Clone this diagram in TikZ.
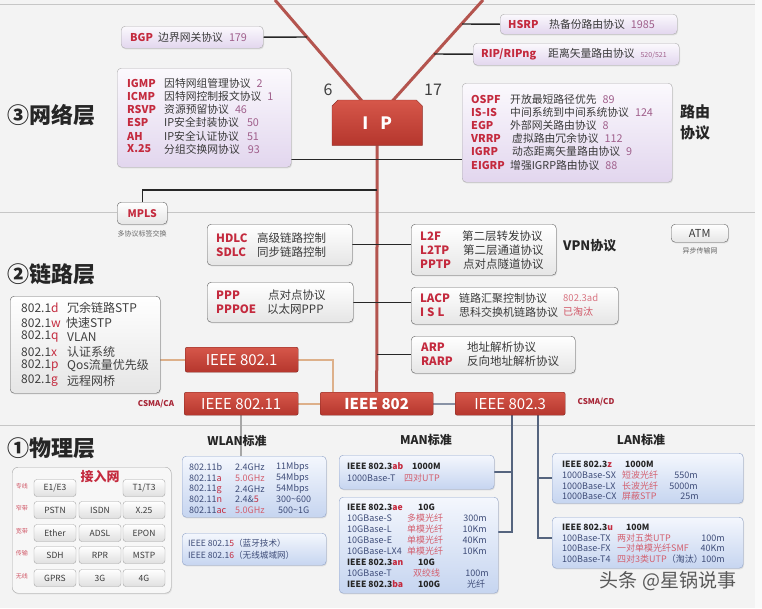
\documentclass[tikz,border=0pt]{standalone}
\usepackage{fontspec}
\setmainfont{Noto Sans CJK SC}
\usetikzlibrary{shadows,calc}
\pgfdeclarelayer{back}
\pgfdeclarelayer{lines}
\pgfsetlayers{back,lines,main}
\definecolor{bgc}{HTML}{F3F3F3}
\definecolor{nred}{HTML}{C42A3E}
\definecolor{numc}{HTML}{A0608C}
\definecolor{txt}{HTML}{3A3A3A}
\definecolor{wl}{HTML}{3E4C78}
\definecolor{redline}{HTML}{B4544E}
\definecolor{tanl}{HTML}{DDB08A}
\definecolor{bluel}{HTML}{55647E}
\definecolor{rtop}{HTML}{D6574A}
\definecolor{rbot}{HTML}{B5362D}
\definecolor{phtop}{HTML}{F4F7FD}
\definecolor{phbot}{HTML}{C6D5F0}
\definecolor{phdr}{HTML}{8FA2C8}
\definecolor{nttop}{HTML}{FBF9FD}
\definecolor{ntbot}{HTML}{E2D6EE}
\newcommand\myfs[1]{\fontsize{#1}{#1}\selectfont}
\tikzset{
 boxbase/.style={anchor=north west, inner sep=0pt, rounded corners=4pt, drop shadow={opacity=0.18, shadow xshift=0.8pt, shadow yshift=-1.2pt}},
 netbox/.style={boxbase, draw=gray!65, top color=nttop, bottom color=ntbot},
 linkbox/.style={boxbase, draw=gray!75!black, top color=white, bottom color=gray!20},
 phybox/.style={boxbase, draw=phdr, top color=phtop, bottom color=phbot},
 redbox/.style={anchor=north west, inner sep=0pt, rounded corners=2pt, draw=rbot!70!black, top color=rtop, bottom color=rbot, text=white, font=\myfs{15}},
 nt/.style={anchor=west, inner sep=0pt, text=txt, font=\myfs{10.8}},
 nn/.style={anchor=west, inner sep=0pt, text=nred, font=\bfseries\myfs{10.8}},
 lt/.style={anchor=west, inner sep=0pt, text=txt, font=\myfs{11.5}},
 ln/.style={anchor=west, inner sep=0pt, text=nred, font=\bfseries\myfs{11.5}},
 dt/.style={anchor=west, inner sep=0pt, text=black!75, font=\myfs{12}},
 wt/.style={anchor=west, inner sep=0pt, text=wl, font=\myfs{9}},
 wb/.style={anchor=west, inner sep=0pt, text=black!85, font=\bfseries\myfs{8.6}},
 wr/.style={anchor=west, inner sep=0pt, text=nred!75, font=\myfs{9}},
 wd/.style={anchor=east, inner sep=0pt, text=wl, font=\myfs{9}},
 layer/.style={anchor=west, inner sep=0pt, font=\bfseries\myfs{22}, text=black!85},
 head/.style={inner sep=0pt, font=\bfseries\myfs{12}, text=black!85},
 btn/.style={draw=gray!70, rounded corners=3pt, top color=white, bottom color=gray!25, minimum width=42pt, minimum height=17pt, inner sep=0pt, font=\myfs{8.5}, text=txt},
 side/.style={inner sep=0pt, font=\myfs{6}, text=nred!80},
 small/.style={inner sep=0pt, font=\myfs{7}, text=black!60},
 blk/.style={draw=black!85, line width=1.4pt},
 redl/.style={draw=redline, line width=3pt},
 tanc/.style={draw=tanl, line width=2pt},
 bluec/.style={draw=bluel, line width=1.8pt},
 sepl/.style={draw=gray!45, line width=0.8pt},
}
\begin{document}
\begin{tikzpicture}[x=1pt,y=-1pt]
\useasboundingbox (0,0) rectangle (762,608);
\begin{pgfonlayer}{back}
\fill[bgc] (0,0) rectangle (762,608);
\fill[white!60!bgc] (755,0) rectangle (762,608);
\draw[sepl] (0,4) -- (755,4);
\draw[sepl] (0,212) -- (755,212);
\draw[sepl] (0,425) -- (755,425);
\end{pgfonlayer}

% ---------------- network layer
\node[layer] (l3) at (7,115) {③网络层};

\node[netbox, minimum width=142pt, minimum height=22pt] (bgp) at (121,26) {};
\node[nn] at (130,37) {BGP};
\node[nt] at (158,37) {边界网关协议\hspace{6pt}\textcolor{numc}{179}};

\node[netbox, minimum width=174pt, minimum height=99pt] (netl) at (117,68) {};
\node[nn] at (127,83) {IGMP}; \node[nt] at (164,83) {因特网组管理协议\hspace{6pt}\textcolor{numc}{2}};
\node[nn] at (127,96) {ICMP}; \node[nt] at (164,96) {因特网控制报文协议\hspace{6pt}\textcolor{numc}{1}};
\node[nn] at (127,109) {RSVP}; \node[nt] at (164,109) {资源预留协议\hspace{6pt}\textcolor{numc}{46}};
\node[nn] at (127,122) {ESP}; \node[nt] at (164,122) {IP安全封装协议\hspace{8pt}\textcolor{numc}{50}};
\node[nn] at (127,136) {AH}; \node[nt] at (164,136) {IP安全认证协议\hspace{8pt}\textcolor{numc}{51}};
\node[nn] at (127,149) {X.25}; \node[nt] at (164,149) {分组交换网协议\hspace{8pt}\textcolor{numc}{93}};

\node[netbox, minimum width=177pt, minimum height=20pt] (hsrp) at (500,14) {};
\node[nn] at (508,24) {HSRP}; \node[nt] at (549,24) {热备份路由协议\hspace{6pt}\textcolor{numc}{1985}};
\node[netbox, minimum width=206pt, minimum height=22pt] (rip) at (473,43) {};
\node[nn] at (481,54) {RIP/RIPng}; \node[nt] at (548,54) {距离矢量路由协议\hspace{6pt}\textcolor{numc}{\myfs{7}520/521}};

\node[netbox, minimum width=210pt, minimum height=99pt] (ospf) at (462,83) {};
\node[nn] at (471,99) {OSPF}; \node[nt] at (510,99) {开放最短路径优先\hspace{6pt}\textcolor{numc}{89}};
\node[nn] at (471,112) {IS-IS}; \node[nt] at (510,112) {中间系统到中间系统协议\hspace{6pt}\textcolor{numc}{124}};
\node[nn] at (471,125) {EGP}; \node[nt] at (510,125) {外部网关路由协议\hspace{6pt}\textcolor{numc}{8}};
\node[nn] at (471,138) {VRRP}; \node[nt] at (512,138) {虚拟路由冗余协议\hspace{6pt}\textcolor{numc}{112}};
\node[nn] at (471,151) {IGRP}; \node[nt] at (512,151) {动态距离矢量路由协议\hspace{6pt}\textcolor{numc}{9}};
\node[nn] at (471,165) {EIGRP}; \node[nt] at (510,165) {增强IGRP路由协议\hspace{6pt}\textcolor{numc}{88}};
\node[inner sep=0pt, font=\bfseries\myfs{15}, text=black!85] (rt1) at (695,112) {路由};
\node[inner sep=0pt, font=\bfseries\myfs{15}, text=black!85] (rt2) at (695,133) {协议};

\node[anchor=north west, minimum width=90pt, minimum height=45pt, inner sep=0pt] (ip) at (332,100) {};
\shade[top color=rtop, bottom color=rbot, draw=rbot!80!black] ($(ip.north west)+(0,6)$) -- ($(ip.north west)+(6,0)$) -- ($(ip.north east)+(-6,0)$) -- ($(ip.north east)+(0,6)$) -- (ip.south east) -- (ip.south west) -- cycle;
\node[text=white, font=\bfseries\myfs{17}] (iptxt) at (ip.center) {I\hspace{12pt}P};
\node[font=\myfs{16}, text=black!75] (six) at (328,90) {6};
\node[font=\myfs{16}, text=black!75] (svt) at (433,90) {17};

\node[linkbox, minimum width=50pt, minimum height=22pt, font=\bfseries\myfs{10.5}, text=nred] (mpls) at (117,202) {MPLS};
\node[small] (mplsc) at (142,234) {多协议标签交换};

% ---------------- link layer
\node[layer] (l2) at (7,274) {②链路层};

\node[linkbox, minimum width=145pt, minimum height=41pt] (hdlc) at (207,224) {};
\node[ln] at (216,238) {HDLC}; \node[lt] at (257,238) {高级链路控制};
\node[ln] at (216,252) {SDLC}; \node[lt] at (257,252) {同步链路控制};
\node[linkbox, minimum width=146pt, minimum height=40pt] (ppp) at (207,282) {};
\node[ln] at (216,295) {PPP}; \node[lt] at (268,295) {点对点协议};
\node[ln] at (216,309) {PPPOE}; \node[lt] at (267,309) {以太网PPP};

\node[linkbox, minimum width=145pt, minimum height=51pt] (l2f) at (411,224) {};
\node[ln] at (420,236) {L2F}; \node[lt] at (462,236) {第二层转发协议};
\node[ln] at (420,250) {L2TP}; \node[lt] at (463,250) {第二层通道协议};
\node[ln] at (420,264) {PPTP}; \node[lt] at (463,264) {点对点隧道协议};
\node[anchor=west, inner sep=0pt, font=\bfseries\myfs{13}, text=black!85] (vpn) at (563,246) {VPN协议};
\node[linkbox, minimum width=57pt, minimum height=18pt, font=\myfs{11}, text=txt] (atm) at (671,224) {ATM};
\node[small] (atmc) at (700,251) {异步传输网};

\node[linkbox, minimum width=207pt, minimum height=37pt] (lacp) at (411,287) {};
\node[ln] at (420,298) {LACP}; \node[lt, font=\myfs{11}] at (459,298) {链路汇聚控制协议}; \node[lt, text=nred!65, font=\myfs{9.5}] at (563,298) {802.3ad};
\node[ln] at (420,312) {I\hspace{3pt}S\hspace{3pt}L}; \node[lt, font=\myfs{11}] at (459,312) {思科交换机链路协议}; \node[lt, text=nred!80, font=\myfs{10}] at (563,312) {已淘汰};

\node[linkbox, minimum width=164pt, minimum height=37pt] (arp) at (411,336) {};
\node[ln] at (421,347) {ARP}; \node[lt] at (467,347) {地址解析协议};
\node[ln] at (421,361) {RARP}; \node[lt] at (467,361) {反向地址解析协议};

\node[linkbox, minimum width=150pt, minimum height=97pt] (l8021) at (10,296) {};
\node[dt] at (21,308) {802.1\textcolor{nred}{d}}; \node[dt] at (67,308) {冗余链路STP};
\node[dt] at (21,323) {802.1\textcolor{nred}{w}}; \node[dt] at (66,323) {快速STP};
\node[dt] at (21,337) {802.1\textcolor{nred}{q}}; \node[dt] at (67,337) {VLAN};
\node[dt] at (21,352) {802.1\textcolor{nred}{x}}; \node[dt] at (67,352) {认证系统};
\node[dt] at (21,366) {802.1\textcolor{nred}{p}}; \node[dt] at (67,366) {Qos流量优先级};
\node[dt] at (21,381) {802.1\textcolor{nred}{g}}; \node[dt] at (67,381) {远程网桥};

\node[redbox, minimum width=113pt, minimum height=25pt] (ieee1) at (185,347) {IEEE 802.1};
\node[redbox, minimum width=114pt, minimum height=23pt] (ieee11) at (184,392) {IEEE 802.11};
\node[redbox, minimum width=113pt, minimum height=23pt, font=\bfseries\myfs{15}] (ieee802) at (320,392) {IEEE 802};
\node[redbox, minimum width=110pt, minimum height=23pt] (ieee3) at (455,392) {IEEE 802.3};
\node[inner sep=0pt, font=\bfseries\myfs{8}, text=nred!85!black] (csmaca) at (156,404) {CSMA/CA};
\node[inner sep=0pt, font=\bfseries\myfs{8}, text=nred!85!black] (csmacd) at (596,402) {CSMA/CD};

% ---------------- physical layer
\node[layer] (l1) at (7,448) {①物理层};
\node[anchor=north west, draw=gray!70, rounded corners=6pt, fill=gray!6, minimum width=159pt, minimum height=126pt, inner sep=0pt, drop shadow={opacity=0.15, shadow xshift=0.8pt, shadow yshift=-1.2pt}] (acc) at (12,467) {};
\node[inner sep=0pt, font=\bfseries\myfs{13}, text=nred] (accl) at (100,477) {接入网};
\node[btn] (b11) at (55,488) {E1/E3};
\node[btn] (b13) at (144,488) {T1/T3};
\node[btn] (b21) at (55,510) {PSTN};
\node[btn] (b22) at (100,510) {ISDN};
\node[btn] (b23) at (144,510) {X.25};
\node[btn] (b31) at (55,533) {Ether};
\node[btn] (b32) at (100,533) {ADSL};
\node[btn] (b33) at (144,533) {EPON};
\node[btn] (b41) at (55,555) {SDH};
\node[btn] (b42) at (100,555) {RPR};
\node[btn] (b43) at (144,555) {MSTP};
\node[btn] (b51) at (55,578) {GPRS};
\node[btn] (b52) at (100,578) {3G};
\node[btn] (b53) at (144,578) {4G};
\node[side] (s1) at (22,486) {专线};
\node[side] (s2) at (22,508) {窄带};
\node[side] (s3) at (22,531) {宽带};
\node[side] (s4) at (22,553) {传输};
\node[side] (s5) at (22,576) {无线};

\node[head] (wlanl) at (237,441) {WLAN标准};
\node[head] (manl) at (426,440) {MAN标准};
\node[head] (lanl) at (641,440) {LAN标准};

\node[phybox, minimum width=144pt, minimum height=61pt] (wlan) at (182,456) {};
\node[wt] at (189,467) {802.11b}; \node[wt] at (235,467) {2.4GHz}; \node[wt] at (276,467) {11Mbps};
\node[wt] at (189,478) {802.11\textcolor{nred}{a}}; \node[wr] at (235,478) {5.0GHz}; \node[wt] at (276,478) {54Mbps};
\node[wt] at (189,489) {802.11\textcolor{nred}{g}}; \node[wt] at (235,489) {2.4GHz}; \node[wt] at (276,489) {54Mbps};
\node[wt] at (189,499) {802.11\textcolor{nred}{n}}; \node[wt] at (235,499) {2.4\&\textcolor{nred}{5}}; \node[wt] at (276,499) {300\textasciitilde 600};
\node[wt] at (189,510) {802.11\textcolor{nred}{ac}}; \node[wr] at (235,510) {5.0GHz}; \node[wt] at (278,510) {500\textasciitilde 1G};

\node[phybox, minimum width=144pt, minimum height=32pt] (w15) at (182,533) {};
\node[wt, font=\myfs{8.6}] at (188,543) {IEEE 802.1\textcolor{nred}{5}（蓝牙技术）};
\node[wt, font=\myfs{8.6}] at (188,555) {IEEE 802.1\textcolor{nred}{6}（无线城域网）};

\node[phybox, minimum width=155pt, minimum height=34pt] (man1) at (339,455) {};
\node[wb] at (347,466) {IEEE 802.3\textcolor{nred}{ab}}; \node[wb] at (412,466) {1000M};
\node[wt] at (347,478) {1000Base-T}; \node[wr] at (404,478) {四对UTP};

\node[phybox, minimum width=159pt, minimum height=96pt] (man2) at (339,497) {};
\node[wb] at (347,507) {IEEE 802.3\textcolor{nred}{ae}}; \node[wb] at (418,507) {10G};
\node[wt] at (347,518) {10GBase-S}; \node[wr] at (407,518) {多模光纤}; \node[wd] at (487,518) {300m};
\node[wt] at (347,529) {10GBase-L}; \node[wr] at (407,529) {单模光纤}; \node[wd] at (487,529) {10Km};
\node[wt] at (347,540) {10GBase-E}; \node[wr] at (407,540) {单模光纤}; \node[wd] at (487,540) {40Km};
\node[wt] at (347,551) {10GBase-LX4}; \node[wr] at (407,551) {单模光纤}; \node[wd] at (487,551) {10Km};
\node[wb] at (347,562) {IEEE 802.3\textcolor{nred}{an}}; \node[wb] at (418,562) {10G};
\node[wt] at (347,573) {10GBase-T}; \node[wr] at (413,573) {双绞线}; \node[wd] at (489,573) {100m};
\node[wb] at (347,584) {IEEE 802.3\textcolor{nred}{ba}}; \node[wb] at (418,584) {100G}; \node[wt] at (467,584) {光纤};

\node[phybox, minimum width=191pt, minimum height=50pt] (lan1) at (552,453) {};
\node[wb] at (562,464) {IEEE 802.3\textcolor{nred}{z}}; \node[wb] at (625,464) {1000M};
\node[wt] at (562,475) {1000Base-SX}; \node[wr] at (622,475) {短波光纤}; \node[wd] at (698,475) {550m};
\node[wt] at (562,486) {1000Base-LX}; \node[wr] at (622,486) {长波光纤}; \node[wd] at (698,486) {5000m};
\node[wt] at (562,496) {1000Base-CX}; \node[wr] at (622,496) {屏蔽STP}; \node[wd] at (699,496) {25m};

\node[phybox, minimum width=191pt, minimum height=51pt] (lan2) at (552,517) {};
\node[wb] at (562,527) {IEEE 802.3\textcolor{nred}{u}}; \node[wb] at (626,527) {100M};
\node[wt] at (562,538) {100Base-TX}; \node[wr] at (617,538) {两对五类UTP}; \node[wd] at (725,538) {100m};
\node[wt] at (562,548) {100Base-FX}; \node[wr] at (617,548) {一对单模光纤SMF}; \node[wd] at (725,548) {40Km};
\node[wt] at (562,559) {100Base-T4}; \node[wr] at (617,559) {四对3类UTP\textcolor{wl}{（淘汰）}}; \node[wd] at (725,559) {100m};

\node[inner sep=0pt, font=\myfs{19}, text=black!65] (wm) at (668,581) {头条 @星锅说事};

% ---------------- connectors
\begin{pgfonlayer}{lines}
\coordinate (vlt) at (275,0);
\coordinate (vrt) at (483,0);
\draw[redl] ($(ip.north west)+(30,1)$) -- (vlt);
\draw[redl] ($(ip.north east)+(-30,1)$) -- (vrt);
\draw[redl] (ip.south) -- (ieee802.north);
\coordinate (bgpj) at (307,37);
\coordinate (hsrpj) at (462,24);
\coordinate (ripj) at (434,54);
\draw[blk] (bgp.east) -- (bgpj);
\draw[blk] (hsrpj) -- (hsrp.west);
\draw[blk] (ripj) -- (rip.west);
\coordinate (nlj) at ($(netl.south east)+(0,-8)$);
\draw[blk] (nlj) -- (nlj -| ospf.west);
\coordinate (mj) at (377,190);
\draw[blk] (mj) -| (mpls.north);
\draw[blk] (hdlc.east) -- (hdlc.east -| l2f.west);
\draw[blk] (ppp.east) -- (ppp.east -| lacp.west);
\draw[blk] (arp.west -| ip.south) -- (arp.west);
\draw[tanc] (ieee1.west -| l8021.east) -- (ieee1.west);
\draw[tanc] (ieee1.east) -| ($(ieee802.north west)+(13,0)$);
\draw[tanc] (ieee11.east) -- (ieee802.west);
\draw[bluec, draw=bluel!70] (ieee802.east) -- (ieee3.west);
\draw[draw=gray!70, line width=1.5pt] (ieee11.south) -- (ieee11.south |- wlan.north);
\draw[bluec] ($(ieee3.south west)+(57,0)$) |- (man1.east);
\draw[bluec] ($(ieee3.south west)+(57,0)$) |- ($(man2.east)+(0,-13)$);
\draw[bluec] ($(ieee3.south west)+(83,0)$) |- (lan1.west);
\draw[bluec] ($(ieee3.south west)+(83,0)$) |- ($(lan2.west)+(0,-5)$);
\end{pgfonlayer}
\end{tikzpicture}
\end{document}
